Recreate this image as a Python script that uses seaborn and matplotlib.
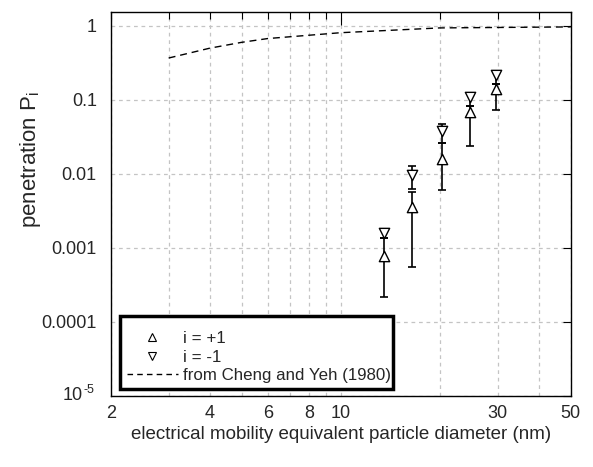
import numpy as np
import pandas as pd
import matplotlib
matplotlib.use('Agg')
import matplotlib.pyplot as plt
import seaborn as sns
from matplotlib.lines import Line2D
from matplotlib.patches import Rectangle
from matplotlib.ticker import FixedLocator, FixedFormatter

# measured penetration, i = +1 and i = -1
diam = [13.5, 16.5, 20.3, 24.7, 29.6]
pos_val = [0.00076, 0.0035, 0.0159, 0.069, 0.141]
pos_lo = [0.000215, 0.00054, 0.006, 0.024, 0.073]
pos_hi = [0.00134, 0.0057, 0.026, 0.083, 0.166]
neg_val = [0.00157, 0.0095, 0.038, 0.110, 0.22]
neg_lo = [0.00134, 0.0063, 0.026, 0.083, 0.166]
neg_hi = [0.0018, 0.0127, 0.047, 0.122, 0.249]

# Cheng and Yeh (1980) theory curve
theory_d = [3, 4, 5, 6, 10, 20, 50]
theory_p = [0.368, 0.50, 0.60, 0.675, 0.81, 0.94, 0.97]

sns.set_style('white')
plt.rcParams['font.family'] = ['Liberation Sans', 'DejaVu Sans']
plt.rcParams['mathtext.fontset'] = 'custom'
plt.rcParams['mathtext.rm'] = 'Liberation Sans'
plt.rcParams['mathtext.it'] = 'Liberation Sans:italic'

fig = plt.figure(figsize=(5.93, 4.67), dpi=100)
ax = fig.add_axes([0.1867, 0.1531, 0.7757, 0.8206])

theory = pd.DataFrame({'d': theory_d, 'p': theory_p})
sns.lineplot(data=theory, x='d', y='p', ax=ax, color='black', lw=1,
             linestyle=(0, (5, 3.5)), zorder=3)

pos = pd.DataFrame({'d': diam, 'p': pos_val})
neg = pd.DataFrame({'d': diam, 'p': neg_val})

err_kw = dict(fmt='none', ecolor='black', elinewidth=1.2, capsize=2.6,
              capthick=1.2, zorder=2)
ax.errorbar(diam, pos_val,
            yerr=[np.array(pos_val) - np.array(pos_lo), np.array(pos_hi) - np.array(pos_val)],
            **err_kw)
ax.errorbar(diam, neg_val,
            yerr=[np.array(neg_val) - np.array(neg_lo), np.array(neg_hi) - np.array(neg_val)],
            **err_kw)

sns.scatterplot(data=pos, x='d', y='p', ax=ax, marker='^', s=55,
                facecolor='white', edgecolor='black', linewidth=1, zorder=4)
sns.scatterplot(data=neg, x='d', y='p', ax=ax, marker='v', s=55,
                facecolor='white', edgecolor='black', linewidth=1, zorder=4)

ax.set_xscale('log')
ax.set_yscale('log')
ax.set_xlim(2, 50)
ax.set_ylim(1e-5, 1.53)

# x ticks: only 10 is a long tick
ax.xaxis.set_major_locator(FixedLocator([10]))
ax.xaxis.set_major_formatter(FixedFormatter(['10']))
minor_x = [2, 3, 4, 5, 6, 7, 8, 9, 20, 30, 40, 50]
minor_lab = ['2', '', '4', '', '6', '', '8', '', '', '30', '', '50']
ax.xaxis.set_minor_locator(FixedLocator(minor_x))
ax.xaxis.set_minor_formatter(FixedFormatter(minor_lab))

ax.yaxis.set_major_locator(FixedLocator([1e-5, 1e-4, 1e-3, 1e-2, 1e-1, 1]))
ax.yaxis.set_major_formatter(FixedFormatter(['', '0.0001', '0.001', '0.01', '0.1', '1']))
ax.yaxis.set_minor_locator(FixedLocator([]))

# 10^-5 label written by hand so the exponent keeps a plain hyphen
ytr = ax.get_yaxis_transform()
ax.text(-0.060, 1e-5, '10', transform=ytr, ha='right', va='center', fontsize=13)
ax.text(-0.060, 1.17e-5, '-5', transform=ytr, ha='left', va='center', fontsize=9)

ax.tick_params(axis='both', which='both', direction='in', top=True, right=True,
               labelsize=13, color='black', width=0.8)
ax.tick_params(axis='x', which='major', length=9, pad=7)
ax.tick_params(axis='x', which='minor', length=5, pad=7)
ax.tick_params(axis='y', which='major', length=6, pad=10)

ax.grid(True, which='both', color='#c4c4c4', linestyle=(0, (3, 3)), lw=0.9)
ax.grid(False, axis='y', which='minor')
for sp in ax.spines.values():
    sp.set_color('black')
    sp.set_linewidth(1)

ax.set_xlabel('electrical mobility equivalent particle diameter (nm)',
              fontsize=13.5, labelpad=3)
ax.set_ylabel(r'penetration P$_{\mathregular{i}}$', fontsize=16)
ax.yaxis.set_label_coords(-0.148, 0.617)

handles = [
    Line2D([], [], marker='^', color='black', markerfacecolor='white', linestyle='none',
           markersize=6, markeredgewidth=0.8, label='i = +1'),
    Line2D([], [], marker='v', color='black', markerfacecolor='white', linestyle='none',
           markersize=6, markeredgewidth=0.8, label='i = -1'),
    Line2D([], [], color='black', lw=1, linestyle=(0, (4, 3)),
           label='from Cheng and Yeh (1980)'),
]
leg = ax.legend(handles=handles, loc='lower left', bbox_to_anchor=(0.0354, 0.032),
                fontsize=12.2, frameon=False, handlelength=3.0,
                handletextpad=0.3, borderpad=0, labelspacing=0.22,
                borderaxespad=0)
leg.set_zorder(6)
ax.add_patch(Rectangle((0.0202, 0.017), 0.5935, 0.1905, transform=ax.transAxes,
                       facecolor='white', edgecolor='black', lw=2.5, zorder=5))

fig.savefig('out.png', dpi=100)
